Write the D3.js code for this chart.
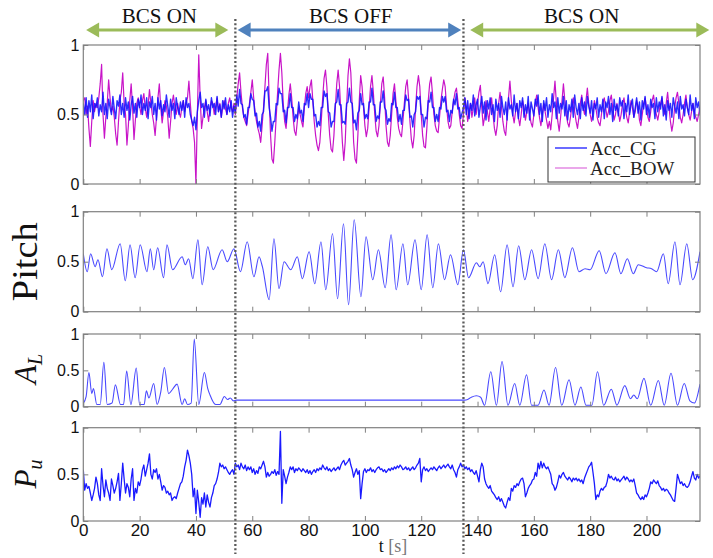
<!DOCTYPE html>
<html><head><meta charset="utf-8">
<script src="https://cdn.jsdelivr.net/npm/d3@7"></script>
<style>body{margin:0;background:#fff}svg{display:block}</style>
</head><body><svg id="c" width="713" height="558"></svg>
<script>
// ---------------- DATA ----------------
const dt = 0.5; // sampling step of the noisy series [s]
const accBOW = [
.60,.62,.50,.56,.40,.27,.45,.60,.52,.58,
.55,.62,.72,.86,.50,.33,.48,.58,.75,.62,
.52,.56,.48,.36,.28,.45,.60,.66,.80,.58,
.50,.28,.42,.60,.72,.55,.32,.46,.58,.62,
.56,.50,.60,.65,.55,.48,.56,.68,.58,.50,
.44,.35,.48,.62,.72,.55,.44,.52,.60,.56,
.48,.33,.45,.58,.64,.56,.50,.58,.52,.48,
.55,.60,.52,.58,.62,.74,.58,.45,.40,.30,
.00,.50,.93,.62,.40,.48,.55,.60,.52,.45,
.55,.60,.58,.50,.56,.62,.52,.58,.48,.55,
.60,.54,.50,.58,.62,.55,.52,.58,
.50,.62,.72,.80,.66,.55,.48,.45,.42,.50,
.58,.66,.75,.62,.52,.45,.40,.36,.30,.42,
.55,.70,.86,.94,.62,.35,.18,.15,.30,.48,
.66,.82,.94,.80,.58,.45,.40,.52,.64,.72,
.62,.48,.38,.35,.45,.55,.50,.45,.41,.55,
.65,.70,.62,.70,.75,.60,.45,.35,.28,.24,
.30,.45,.62,.76,.82,.70,.50,.35,.25,.23,
.35,.55,.72,.82,.70,.50,.30,.17,.30,.55,
.78,.90,.80,.55,.30,.18,.15,.35,.60,.78,
.70,.55,.42,.34,.40,.55,.70,.78,.66,.50,
.38,.34,.42,.58,.72,.77,.62,.42,.30,.27,
.35,.50,.65,.72,.60,.48,.40,.36,.34,.45,
.58,.70,.75,.62,.45,.32,.26,.35,.55,.70,
.78,.70,.50,.35,.27,.26,.40,.60,.72,.77,
.65,.50,.42,.38,.37,.48,.60,.68,.75,.70,
.56,.45,.40,.42,.52,.60,.66,.69,.60,.50,
.42,.40,
.50,.62,.55,.45,.52,.58,.48,.55,.62,.50,
.58,.66,.71,.55,.42,.48,.60,.52,.45,.55,
.62,.50,.40,.35,.42,.58,.66,.55,.45,.38,
.35,.48,.62,.74,.60,.50,.44,.52,.58,.48,
.42,.50,.60,.55,.46,.52,.58,.50,.44,.41,
.50,.58,.64,.55,.48,.42,.50,.58,.52,.46,
.40,.45,.39,.50,.62,.74,.58,.45,.38,.48,
.60,.72,.60,.50,.44,.41,.48,.56,.62,.52,
.45,.40,.48,.58,.64,.55,.50,.60,.69,.58,
.50,.45,.52,.60,.55,.48,.44,.42,.50,.58,
.62,.55,.48,.52,.60,.64,.55,.46,.50,.58,
.52,.45,.50,.58,.62,.54,.48,.44,.52,.60,
.55,.48,.52,.60,.56,.46,.42,.50,.58,.62,
.55,.48,.45,.52,.60,.64,.56,.50,.46,.52,
.58,.62,.55,.50,.58,.66,.55,.45,.38,.44,
.55,.62,.66,.58,.48,.44,.50,.58,.64,.55,
.50,.46,.52,.58,.52,.48,.45,.50,.55,.52
];
const accCG = [
.58,.50,.62,.48,.60,.52,.64,.47,.58,.55,
.62,.49,.57,.52,.66,.50,.58,.47,.61,.55,
.50,.63,.54,.47,.60,.56,.64,.50,.58,.48,
.62,.53,.59,.46,.57,.63,.51,.58,.48,.61,
.55,.64,.50,.58,.53,.62,.47,.59,.55,.63,
.50,.58,.46,.62,.54,.60,.49,.57,.52,.64,
.56,.48,.61,.53,.58,.47,.62,.55,.50,.59,
.53,.60,.48,.62,.55,.58,.50,.46,.42,.48,
.39,.52,.60,.66,.55,.58,.48,.61,.53,.57,
.49,.62,.55,.58,.50,.63,.52,.57,.48,.60,
.54,.62,.50,.57,.52,.60,.48,.56,
.52,.64,.56,.68,.58,.57,.48,.50,.43,.55,
.55,.65,.61,.60,.49,.51,.41,.45,.38,.50,
.52,.67,.67,.70,.55,.48,.38,.45,.45,.58,
.57,.69,.65,.65,.52,.53,.44,.55,.55,.65,
.55,.55,.45,.50,.47,.59,.51,.53,.45,.58,
.57,.65,.55,.65,.61,.61,.49,.50,.41,.45,
.42,.55,.55,.67,.63,.65,.52,.51,.41,.45,
.45,.58,.59,.68,.57,.57,.44,.45,.43,.58,
.59,.69,.59,.58,.44,.46,.39,.51,.53,.65,
.57,.58,.47,.50,.47,.59,.59,.69,.57,.57,
.45,.49,.47,.59,.59,.67,.55,.53,.43,.47,
.45,.58,.57,.66,.55,.55,.45,.50,.43,.53,
.53,.64,.60,.61,.48,.49,.41,.50,.52,.63,
.61,.63,.50,.50,.41,.48,.47,.60,.59,.66,
.55,.55,.45,.50,.45,.55,.54,.63,.59,.63,
.52,.53,.45,.53,.51,.61,.57,.65,.54,.55,
.47,.51,
.55,.62,.50,.60,.47,.58,.53,.64,.49,.57,
.61,.48,.56,.63,.51,.59,.46,.60,.54,.62,
.50,.57,.45,.61,.53,.58,.48,.63,.55,.50,
.59,.46,.62,.54,.57,.49,.64,.52,.58,.47,
.60,.55,.62,.48,.57,.51,.63,.46,.59,.54,
.49,.61,.56,.64,.50,.58,.45,.60,.53,.62,
.48,.57,.52,.65,.55,.59,.47,.62,.51,.58,
.54,.63,.49,.60,.46,.57,.52,.61,.48,.64,
.55,.50,.58,.47,.62,.53,.59,.49,.63,.56,
.51,.60,.46,.58,.54,.62,.48,.57,.52,.61,
.47,.59,.55,.63,.50,.58,.45,.61,.53,.57,
.49,.62,.56,.60,.47,.58,.52,.64,.50,.57,
.61,.48,.55,.62,.51,.59,.46,.60,.54,.63,
.50,.57,.48,.61,.55,.58,.47,.62,.52,.59,
.54,.63,.49,.57,.46,.60,.53,.58,.48,.62,
.56,.51,.59,.47,.63,.54,.57,.49,.61,.55,
.50,.64,.53,.58,.47,.62,.55,.59,.50,.57
];
const pu = [
.55,.33,.40,.35,.37,.30,.22,.28,.35,.47,
.40,.28,.22,.56,.38,.26,.44,.35,.30,.22,
.45,.38,.30,.35,.42,.51,.22,.40,.62,.45,
.30,.40,.36,.26,.45,.56,.22,.35,.30,.42,
.38,.45,.55,.60,.48,.55,.62,.72,.50,.45,
.55,.52,.56,.45,.50,.42,.33,.38,.36,.30,
.32,.28,.30,.22,.25,.26,.24,.30,.35,.40,
.42,.48,.58,.65,.76,.70,.62,.50,.26,.35,
.08,.33,.20,.04,.25,.18,.30,.15,.28,.20,
.15,.25,.30,.38,.40,.45,.52,.62,.58,.60,
.56,.58,.55,.52,.50,.53,.55,.50,
.62,.58,.60,.55,.62,.58,.56,.60,.54,.58,
.55,.58,.52,.56,.50,.54,.51,.58,.56,.60,
.64,.58,.47,.52,.48,.50,.53,.51,.55,.49,
.53,.50,.96,.19,.55,.48,.40,.47,.52,.58,
.55,.58,.52,.56,.54,.57,.55,.53,.56,.54,
.52,.55,.51,.54,.50,.53,.55,.52,.56,.54,
.57,.55,.60,.57,.55,.58,.54,.56,.53,.55,
.57,.54,.56,.58,.55,.60,.63,.65,.60,.62,
.64,.67,.60,.55,.47,.52,.56,.50,.54,.24,
.40,.53,.56,.52,.55,.54,.57,.53,.55,.52,
.55,.57,.58,.55,.56,.53,.55,.52,.54,.56,
.54,.57,.55,.58,.56,.59,.57,.60,.58,.55,
.56,.58,.55,.57,.54,.56,.58,.55,.57,.60,
.62,.67,.42,.55,.58,.54,.56,.53,.55,.57,
.55,.58,.56,.54,.57,.59,.56,.58,.60,.57,
.59,.61,.58,.56,.60,.55,.52,.47,.55,.58,
.62,.58,
.60,.56,.58,.55,.57,.53,.55,.52,.50,.54,
.48,.42,.55,.62,.58,.45,.40,.37,.35,.38,
.32,.30,.28,.25,.23,.26,.21,.24,.20,.16,
.14,.20,.25,.22,.35,.32,.38,.36,.40,.38,
.42,.45,.46,.40,.26,.30,.35,.38,.40,.44,
.45,.52,.48,.62,.56,.64,.57,.62,.58,.56,
.58,.54,.50,.40,.38,.33,.36,.42,.49,.46,
.50,.52,.48,.46,.44,.47,.45,.42,.46,.44,
.46,.43,.45,.42,.44,.40,.46,.50,.54,.58,
.60,.63,.52,.40,.23,.28,.26,.32,.35,.33,
.36,.37,.42,.50,.46,.48,.45,.44,.47,.43,
.45,.42,.44,.46,.48,.44,.47,.45,.42,.44,
.42,.45,.38,.30,.28,.25,.23,.26,.23,.28,
.26,.30,.35,.42,.40,.44,.42,.40,.43,.38,
.36,.33,.35,.32,.34,.33,.30,.28,.25,.22,
.21,.35,.50,.45,.40,.42,.38,.40,.37,.36,
.38,.42,.48,.53,.46,.44,.50,.46,.48,.47
];
const pitchT = [0,1.4,2.6,4.2,5.2,6.8,8.4,10.1,13.1,14.9,16.6,18.4,20.2,22.6,23.8,25,26.4,28.5,29.7,31.7,35.1,36.2,37.4,38.9,40.7,42.2,44.2,46.1,49.3,51.1,53.5,55.8,58.2,60.6,62.4,63.6,66,67.7,69.5,71.3,73.7,76,77.8,80.2,82.2,84.4,86.1,88.5,90.3,92.4,94.2,96.2,98.6,100.4,102.8,104.8,107.2,109.3,111.1,113.5,115.2,117.8,120,122.1,124.1,126.1,128.3,130.4,133,135,136.8,139.6,140.8,142,143.7,146.1,148.2,150.5,152.6,154.6,156.8,159.2,161.5,163.9,166.3,168.7,171,173.7,176,178.2,180,183.2,185.6,188.8,190.9,193.2,195.3,197.1,200,201.8,203.6,206,207.7,210.1,211.9,214.3,216.4,219];
const pitchV = [0.58,0.40,0.58,0.45,0.52,0.35,0.63,0.42,0.68,0.31,0.67,0.34,0.67,0.40,0.63,0.42,0.64,0.34,0.67,0.42,0.55,0.47,0.53,0.33,0.72,0.27,0.65,0.42,0.62,0.50,0.63,0.40,0.70,0.35,0.55,0.45,0.12,0.73,0.23,0.50,0.42,0.55,0.33,0.60,0.28,0.70,0.22,0.78,0.13,0.88,0.07,0.92,0.15,0.75,0.32,0.62,0.24,0.77,0.22,0.68,0.27,0.72,0.22,0.77,0.24,0.68,0.32,0.57,0.27,0.62,0.34,0.49,0.45,0.50,0.28,0.57,0.20,0.67,0.25,0.66,0.32,0.62,0.33,0.68,0.32,0.62,0.34,0.64,0.40,0.43,0.42,0.61,0.38,0.59,0.38,0.53,0.38,0.47,0.44,0.43,0.40,0.58,0.28,0.70,0.27,0.68,0.32,0.60];
const alT = [0,1,2,3,3.6,4.8,6,7.3,8.5,10.2,11.4,13.2,14.3,15.4,16.9,18.8,20,21.6,22.4,23.3,25,26.2,27.5,28.8,30.3,31.7,33.3,35.1,36,37,38.3,39.4,41,43,44.2,45,47,48.5,50.1,51.2,52.2,53.3,54.4,135.4,136.5,137.8,139.6,141.1,142.5,144.7,146.7,148.7,150.8,153.2,155,157.4,159.2,161.5,163.6,165.4,167.7,169.9,172.5,174.6,176.7,178.5,180.6,182.6,184.8,187.5,189.5,192.3,194.3,195.5,196.7,199.1,201.5,204.2,206.3,208.7,211,213.4,215.4,217,219];
const alV = [0.05,0.14,0.47,0.18,0.25,0.03,0.03,0.61,0.03,0.05,0.30,0.03,0.03,0.49,0.03,0.53,0.03,0.03,0.22,0.12,0.32,0.03,0.2,0.54,0.18,0.24,0.31,0.03,0.11,0.03,0.05,0.93,0.03,0.47,0.25,0.16,0.03,0.03,0.14,0.10,0.12,0.08,0.09,0.09,0.10,0.13,0.15,0.13,0.02,0.48,0.02,0.62,0.02,0.32,0.02,0.44,0.02,0.02,0.23,0.02,0.54,0.02,0.37,0.02,0.27,0.02,0.02,0.48,0.02,0.24,0.02,0.29,0.11,0.16,0.11,0.39,0.02,0.36,0.02,0.46,0.02,0.32,0.08,0.05,0.31];
const xTicks = [0,20,40,60,80,100,120,140,160,180,200];
const yTicks = [0,0.5,1];
const yTickLabels = ["0","0.5","1"];
const switchTimes = [54,135];
const phaseLabels = ["BCS ON","BCS OFF","BCS ON"];
const phaseFrom = [1,54.8,137.4];
const phaseTo = [51.5,134.2,222.3];
const phaseLabelT = [27,95,177];
const legendLabels = ["Acc_CG","Acc_BOW"];

// ---------------- DRAW ----------------
const svg = d3.select("#c");
const x = d3.scaleLinear().domain([0,219]).range([83.3,700]);
const panels = [
  {top:45, bottom:184},
  {top:211.7, bottom:311.7},
  {top:334, bottom:406.7},
  {top:427.7, bottom:521}
];
const defs = svg.append("defs");
const frameColor = "#808080";

panels.forEach((p,k)=>{
  p.y = d3.scaleLinear().domain([0,1]).range([p.bottom,p.top]);
  defs.append("clipPath").attr("id","clip"+k).append("rect")
    .attr("x",x(0)).attr("y",p.top).attr("width",x(219)-x(0)).attr("height",p.bottom-p.top);
});

function drawFrame(p,k,last){
  const g = svg.append("g");
  const tick = 5;
  const ax1 = g.append("g").attr("transform",`translate(0,${p.bottom})`)
    .call(d3.axisBottom(x).tickValues(xTicks).tickSizeInner(-tick).tickSizeOuter(0).tickPadding(2).tickFormat(last? d3.format("d") : ""));
  g.append("g").attr("transform",`translate(0,${p.top})`)
    .call(d3.axisTop(x).tickValues(xTicks).tickSizeInner(-tick).tickSizeOuter(0).tickFormat(""));
  const ay1 = g.append("g").attr("transform",`translate(${x(0)},0)`)
    .call(d3.axisLeft(p.y).tickValues(yTicks).tickSizeInner(-tick).tickSizeOuter(0).tickPadding(4).tickFormat((d,i)=>yTickLabels[i]));
  g.append("g").attr("transform",`translate(${x(219)},0)`)
    .call(d3.axisRight(p.y).tickValues(yTicks).tickSizeInner(-tick).tickSizeOuter(0).tickFormat(""));
  g.selectAll(".domain").remove();
  g.selectAll(".tick line").attr("stroke",frameColor).attr("stroke-width",1);
  g.selectAll(".tick text").attr("fill","#111").style("font-family","'Liberation Sans',Arial,sans-serif");
  ay1.selectAll(".tick text").style("font-size","16px");
  ax1.selectAll(".tick text").style("font-size","17px").attr("dy","0.75em");
  g.append("rect").attr("x",x(0)).attr("y",p.top).attr("width",x(219)-x(0)).attr("height",p.bottom-p.top)
    .attr("fill","none").attr("stroke",frameColor).attr("stroke-width",1.2);
}

const idxLine = (yS)=> d3.line().x((d,i)=>x(i*dt)).y(d=>yS(d));
const ptLine = (yS,curve)=> d3.line().x(d=>x(d[0])).y(d=>yS(d[1])).curve(curve);

// Panel 1
{
  const p = panels[0];
  const g = svg.append("g").attr("clip-path","url(#clip0)");
  g.append("path").datum(accBOW).attr("d",idxLine(p.y)).attr("fill","none")
    .attr("stroke","#c814c8").attr("stroke-width",1.2).attr("stroke-linejoin","round");
  g.append("path").datum(accCG).attr("d",idxLine(p.y)).attr("fill","none")
    .attr("stroke","#1010ff").attr("stroke-width",1.4).attr("stroke-opacity",0.88).attr("stroke-linejoin","round");
}
// Panel 2
{
  const p = panels[1];
  const data = pitchT.map((t,i)=>[t,pitchV[i]]);
  svg.append("g").attr("clip-path","url(#clip1)").append("path").datum(data)
    .attr("d",ptLine(p.y,d3.curveMonotoneX)).attr("fill","none").attr("stroke","#4a4aff").attr("stroke-width",1.1);
}
// Panel 3
{
  const p = panels[2];
  const data = alT.map((t,i)=>[t,alV[i]]);
  svg.append("g").attr("clip-path","url(#clip2)").append("path").datum(data)
    .attr("d",ptLine(p.y,d3.curveMonotoneX)).attr("fill","none").attr("stroke","#4a4aff").attr("stroke-width",1.1);
}
// Panel 4
{
  const p = panels[3];
  svg.append("g").attr("clip-path","url(#clip3)").append("path").datum(pu)
    .attr("d",idxLine(p.y)).attr("fill","none").attr("stroke","#1a1aff").attr("stroke-width",1.3).attr("stroke-linejoin","round");
}

panels.forEach((p,k)=>drawFrame(p,k,k===panels.length-1));

// Legend
{
  const p = panels[0];
  const lw = 147, lh = 45;
  const lx = x(219)-5-lw, ly = p.bottom-2-lh;
  const lg = svg.append("g").attr("transform",`translate(${lx},${ly})`);
  lg.append("rect").attr("width",lw).attr("height",lh).attr("fill","#fff").attr("stroke","#333").attr("stroke-width",1);
  const cols = ["#3a3aff","#e38ae3"];
  legendLabels.forEach((lab,i)=>{
    const yy = 11 + i*20;
    lg.append("line").attr("x1",7).attr("x2",39).attr("y1",yy).attr("y2",yy).attr("stroke",cols[i]).attr("stroke-width",1.5);
    lg.append("text").attr("x",42).attr("y",yy+7).text(lab)
      .style("font-family","'Liberation Serif','Times New Roman',serif").style("font-size","19px").attr("fill","#222");
  });
}

// Y labels
const serif = "'Liberation Serif','Times New Roman',serif";
svg.append("text").attr("transform",`translate(37,${(panels[1].top+panels[1].bottom)/2}) rotate(-90)`)
  .attr("text-anchor","middle").style("font-family",serif).style("font-size","35px")
  .attr("textLength",79).attr("lengthAdjust","spacingAndGlyphs").attr("fill","#111").text("Pitch");
function mathLabel(main,sub,cy){
  const t = svg.append("text").attr("transform",`translate(36,${cy}) rotate(-90)`)
    .attr("text-anchor","middle").style("font-family",serif).attr("fill","#111");
  t.append("tspan").style("font-style","italic").style("font-size","31px").text(main);
  t.append("tspan").style("font-style","italic").style("font-size","20px").attr("dy",6).text(sub);
}
mathLabel("A","L",369);
mathLabel("P","u",474);

// X label
{
  const t = svg.append("text").attr("x",393).attr("y",552).attr("text-anchor","middle")
    .style("font-family",serif).style("font-size","18px").attr("fill","#111");
  t.append("tspan").text("t ");
  t.append("tspan").attr("fill","#777").text("[s]");
}

// Phase arrows
const arrowCols = ["#9bbb59","#4f81bd","#9bbb59"];
const ay = 30;
phaseLabels.forEach((lab,i)=>{
  const x1 = x(phaseFrom[i]), x2 = x(phaseTo[i]);
  const g = svg.append("g");
  const hl = 13, hh = 7.5;
  g.append("line").attr("x1",x1+hl-1).attr("x2",x2-hl+1).attr("y1",ay).attr("y2",ay)
    .attr("stroke",arrowCols[i]).attr("stroke-width",3);
  g.append("path").attr("d",`M${x1},${ay}L${x1+hl},${ay-hh}L${x1+hl},${ay+hh}Z`).attr("fill",arrowCols[i]);
  g.append("path").attr("d",`M${x2},${ay}L${x2-hl},${ay-hh}L${x2-hl},${ay+hh}Z`).attr("fill",arrowCols[i]);
  svg.append("text").attr("x",x(phaseLabelT[i])).attr("y",23).attr("text-anchor","middle")
    .style("font-family",serif).style("font-size","21px").attr("fill","#111").text(lab);
});

// Dotted switch lines
switchTimes.forEach(t=>{
  svg.append("line").attr("x1",x(t)).attr("x2",x(t)).attr("y1",19).attr("y2",554)
    .attr("stroke","#5a5a5a").attr("stroke-width",2.3).attr("stroke-dasharray","2,2.2");
});
</script>
</body></html>
